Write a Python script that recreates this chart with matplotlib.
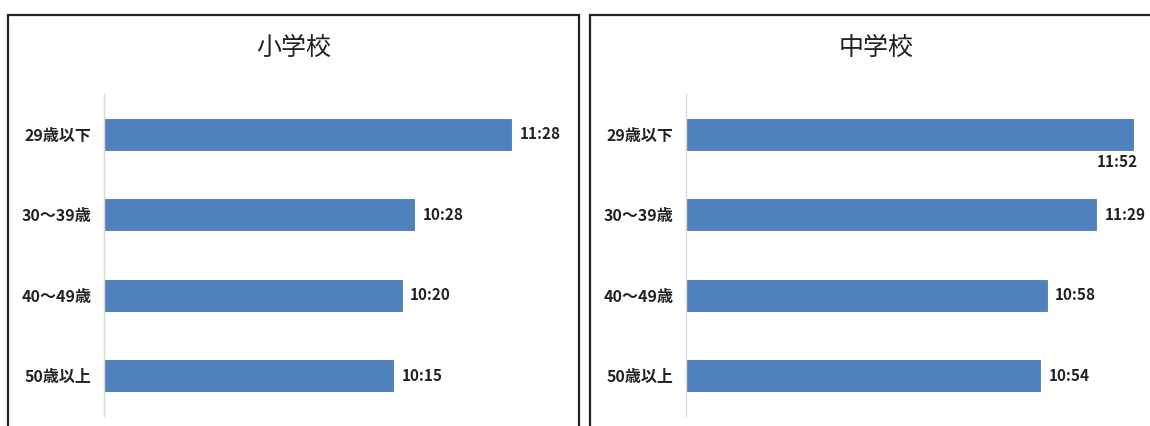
import matplotlib
matplotlib.use("Agg")
import matplotlib.pyplot as plt
from matplotlib.patches import Rectangle

plt.rcParams['font.family'] = ['Noto Sans CJK JP', 'DejaVu Sans']

# data
categories = ['29歳以下', '30～39歳', '40～49歳', '50歳以上']
elementary = ['11:28', '10:28', '10:20', '10:15']
junior_high = ['11:52', '11:29', '10:58', '10:54']
titles = ['小学校', '中学校']

def to_min(s):
    h, m = s.split(':')
    return int(h) * 60 + int(m)

W, H = 1150, 426
fig = plt.figure(figsize=(W / 100, H / 100), dpi=100)

bar_color = '#4F81BD'

def px_axes(x0, y_top, w, h):
    return fig.add_axes([x0 / W, (H - y_top - h) / H, w / W, h / H])

# panel borders (cut off at the bottom like the original)
for bx, bw in [(8, 571), (590, 600)]:
    fig.patches.append(Rectangle((bx / W, -20 / H), bw / W, (H - 15 + 20) / H,
                                 transform=fig.transFigure, fill=False,
                                 edgecolor='#222222', linewidth=1.6))

# axis x (px), axis min (minutes), px per minute, values, title, title x, box right edge
panels = [
    (104, 436, 1.617, elementary, titles[0], 294, 579),
    (686, 433, 1.603, junior_high, titles[1], 876, 1150),
]

for ax_x, vmin, scale, vals, title, tx, box_r in panels:
    aw = 464
    ax = px_axes(ax_x, 94, aw, 322)
    mins = [to_min(v) for v in vals]
    ypos = list(range(len(categories)))
    ax.barh(ypos, [m - vmin for m in mins], left=vmin, height=0.38,
            color=bar_color, edgecolor='#4A7AB4', linewidth=0.6)
    ax.set_xlim(vmin, vmin + aw / scale)
    ax.set_ylim(len(categories) - 0.5, -0.5)
    ax.set_yticks(ypos)
    ax.set_yticklabels(categories, fontsize=11.5, fontweight='bold', color='#222222')
    ax.tick_params(axis='y', length=0, pad=9)
    ax.set_xticks([])
    for s in ['top', 'right', 'bottom']:
        ax.spines[s].set_visible(False)
    ax.spines['left'].set_color('#D9D9D9')
    ax.spines['left'].set_linewidth(1.0)
    for y, m, v in zip(ypos, mins, vals):
        end_px = ax_x + (m - vmin) * scale
        if end_px + 52 > box_r:
            ax.text(m + 3, y + 0.25, v, ha='right', va='top', fontsize=11,
                    fontweight='bold', color='#222222')
        else:
            ax.text(m + 5, y, v, ha='left', va='center', fontsize=11,
                    fontweight='bold', color='#222222')
    fig.text(tx / W, (H - 48) / H, title, ha='center', va='center',
             fontsize=18, color='#222222')

fig.savefig('out.png', dpi=100)
